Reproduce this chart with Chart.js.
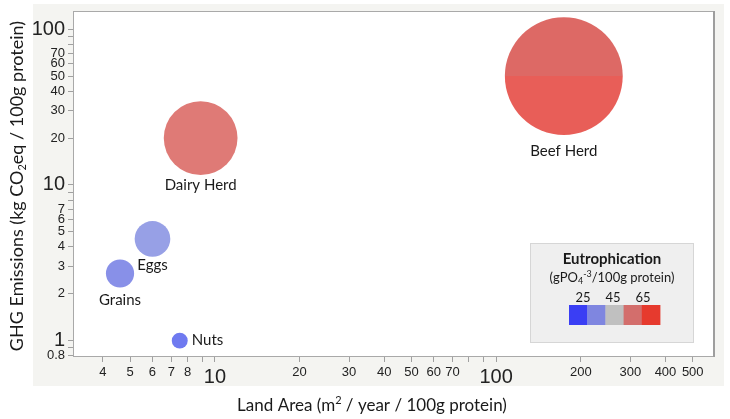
<!DOCTYPE html>
<html>
<head>
<meta charset="utf-8">
<script src="https://cdn.jsdelivr.net/npm/chart.js@4.4.1/dist/chart.umd.min.js"></script>
<style>
html, body { margin: 0; padding: 0; background: #fff; }
#wrap { width: 730px; height: 419px; }
</style>
</head>
<body>
<div id="wrap"><canvas id="bubbleChart" width="730" height="419"></canvas></div>
<script>
// Dados
const foods = ['Beef Herd', 'Dairy Herd', 'Eggs', 'Grains', 'Nuts'];
const landArea = [174, 8.9, 6.0, 4.6, 7.5];       // m2 / year / 100g protein
const ghgEmissions = [50, 20, 4.5, 2.7, 1.0];     // kg CO2eq / 100g protein
const bubbleValue = [350, 137, 32, 20, 6.4];      // relative bubble size
const xTickValues = [4, 5, 6, 7, 8, 9, 10, 20, 30, 40, 50, 60, 70, 80, 90, 100, 200, 300, 400, 500];
const xTickLabels = ['4', '5', '6', '7', '8', '', '10', '20', '30', '40', '50', '60', '70', '', '', '100', '200', '300', '400', '500'];
const yTickValues = [0.8, 0.9, 1, 2, 3, 4, 5, 6, 7, 8, 9, 10, 20, 30, 40, 50, 60, 70, 80, 90, 100];
const yTickLabels = ['0.8', '', '1', '2', '3', '4', '5', '6', '7', '', '', '10', '20', '30', '40', '50', '60', '70', '', '', '100'];
const bigTicks = [1, 10, 100];
const legendSteps = ['25', '45', '65'];

// Estilo
const bubbleColors = ['#e4625c', '#df7a76', '#97a0e6', '#8890e8', '#6f7af0'];
const labelPlacement = ['below', 'below', 'below', 'below', 'right'];
const labelGap = [9, 3, 1, 5, 4];
const swatchColors = ['#3a3ef4', '#7f86e0', '#c0c0c0', '#d36e6c', '#e63a2e'];
const tickFont = 'Liberation Sans, Arial, sans-serif';
const textFont = 'Lato, Carlito, sans-serif';

function tickFontFor(ctx) {
  const big = ctx.tick && bigTicks.includes(ctx.tick.value);
  return { family: tickFont, size: big ? 20 : 13 };
}

// texto com sub/sobrescrito
function drawRich(ctx, parts, x, y) {
  let total = 0;
  parts.forEach(p => {
    ctx.font = (p.bold ? 'bold ' : '') + p.size + 'px ' + textFont;
    p.w = ctx.measureText(p.t).width;
    total += p.w;
  });
  let cx = x - total / 2;
  ctx.textAlign = 'left';
  ctx.textBaseline = 'middle';
  parts.forEach(p => {
    ctx.font = (p.bold ? 'bold ' : '') + p.size + 'px ' + textFont;
    ctx.fillText(p.t, cx, y + (p.dy || 0));
    cx += p.w;
  });
}

const decor = {
  id: 'decor',
  beforeDraw(chart) {
    const { ctx, chartArea: a } = chart;
    ctx.save();
    ctx.fillStyle = '#ffffff';
    ctx.fillRect(0, 0, chart.width, chart.height);
    ctx.fillStyle = '#f4f4f1';
    ctx.fillRect(33, 4, 691, 382);
    ctx.fillStyle = '#ffffff';
    ctx.fillRect(a.left, a.top, a.right - a.left, a.bottom - a.top);
    ctx.restore();
  },
  afterDatasetsDraw(chart) {
    const { ctx, chartArea: a } = chart;
    ctx.save();
    // moldura
    ctx.strokeStyle = '#a9a9a9';
    ctx.lineWidth = 1;
    ctx.strokeRect(a.left + 0.5, a.top + 0.5, a.right - a.left - 1, a.bottom - a.top - 1);
    ctx.strokeStyle = '#9e9e9e';
    ctx.lineWidth = 2;
    ctx.beginPath();
    ctx.moveTo(a.right - 1, a.top);
    ctx.lineTo(a.right - 1, a.bottom);
    ctx.stroke();

    // rótulos das bolhas
    const meta = chart.getDatasetMeta(0);
    ctx.fillStyle = '#1a1a1a';
    ctx.font = '15px ' + textFont;
    meta.data.forEach((el, i) => {
      const r = el.options.radius;
      if (labelPlacement[i] === 'right') {
        ctx.textAlign = 'left';
        ctx.textBaseline = 'middle';
        ctx.fillText(foods[i], el.x + r + labelGap[i], el.y);
      } else {
        ctx.textAlign = 'center';
        ctx.textBaseline = 'top';
        ctx.fillText(foods[i], el.x, el.y + r + labelGap[i]);
      }
    });

    // legenda
    ctx.fillStyle = '#efefef';
    ctx.fillRect(530, 243, 164, 100);
    ctx.strokeStyle = '#d6d6d6';
    ctx.lineWidth = 1;
    ctx.strokeRect(530.5, 243.5, 163, 99);
    ctx.fillStyle = '#1a1a1a';
    drawRich(ctx, [{ t: 'Eutrophication', size: 15, bold: true }], 612, 259);
    drawRich(ctx, [
      { t: '(gPO', size: 13 },
      { t: '4', size: 9, dy: 3 },
      { t: '-3', size: 9, dy: -4 },
      { t: '/100g protein)', size: 13 }
    ], 612, 278);
    const stepX = [583, 613, 643];
    legendSteps.forEach((s, i) => drawRich(ctx, [{ t: s, size: 13 }], stepX[i], 298));
    swatchColors.forEach((c, i) => {
      ctx.fillStyle = c;
      ctx.fillRect(569 + i * 18.2, 305, 18.6, 20);
    });

    // títulos dos eixos
    ctx.fillStyle = '#1a1a1a';
    drawRich(ctx, [
      { t: 'Land Area (m', size: 17 },
      { t: '2', size: 11, dy: -6 },
      { t: ' / year / 100g protein)', size: 17 }
    ], 372, 406);
    ctx.translate(17, 186);
    ctx.rotate(-Math.PI / 2);
    drawRich(ctx, [
      { t: 'GHG Emissions (kg CO', size: 18 },
      { t: '2', size: 11, dy: 5 },
      { t: 'eq / 100g protein)', size: 18 }
    ], 0, 0);
    ctx.restore();
  }
};

const ctxBubble = document.getElementById('bubbleChart').getContext('2d');
const bubbleChart = new Chart(ctxBubble, {
  type: 'bubble',
  data: {
    datasets: [{
      label: 'Foods',
      data: foods.map((f, i) => ({ x: landArea[i], y: ghgEmissions[i], r: Math.sqrt(bubbleValue[i]) * 3.15 })),
      backgroundColor: (c) => {
        const i = c.dataIndex;
        const chart = c.chart;
        if (i === 0 && chart.chartArea && chart.scales.y) {
          const cy = chart.scales.y.getPixelForValue(ghgEmissions[0]);
          const r = Math.sqrt(bubbleValue[0]) * 3.15;
          const g = chart.ctx.createLinearGradient(0, cy - r, 0, cy + r);
          g.addColorStop(0, '#dd6965');
          g.addColorStop(0.5, '#dd6965');
          g.addColorStop(0.5, '#e85e58');
          g.addColorStop(1, '#e85e58');
          return g;
        }
        return bubbleColors[i];
      },
      borderWidth: 0,
      hoverBorderWidth: 0,
      clip: false
    }]
  },
  options: {
    responsive: false,
    animation: false,
    events: [],
    layout: { autoPadding: false, padding: { top: 11, right: 15, left: 0, bottom: 0 } },
    plugins: {
      legend: { display: false },
      tooltip: { enabled: false }
    },
    scales: {
      x: {
        type: 'logarithmic',
        min: 3.13,
        max: 600,
        border: { display: false },
        grid: { drawOnChartArea: false, tickLength: 5, color: '#a0a0a0' },
        ticks: {
          autoSkip: false,
          maxRotation: 0,
          padding: 3,
          color: '#222',
          font: tickFontFor,
          callback: (v, i) => xTickLabels[i]
        },
        afterBuildTicks: (s) => { s.ticks = xTickValues.map(v => ({ value: v })); },
        afterFit: (s) => { s.height = 62; s.paddingLeft = 0; s.paddingRight = 0; }
      },
      y: {
        type: 'logarithmic',
        min: 0.785,
        max: 131,
        border: { display: false },
        grid: { drawOnChartArea: false, tickLength: 5, color: '#a0a0a0' },
        ticks: {
          autoSkip: false,
          padding: 3,
          color: '#222',
          font: tickFontFor,
          callback: (v, i) => yTickLabels[i]
        },
        afterBuildTicks: (s) => { s.ticks = yTickValues.map(v => ({ value: v })); },
        afterFit: (s) => { s.width = 73; s.paddingTop = 0; s.paddingBottom = 0; }
      }
    }
  },
  plugins: [decor]
});
</script>
</body>
</html>
